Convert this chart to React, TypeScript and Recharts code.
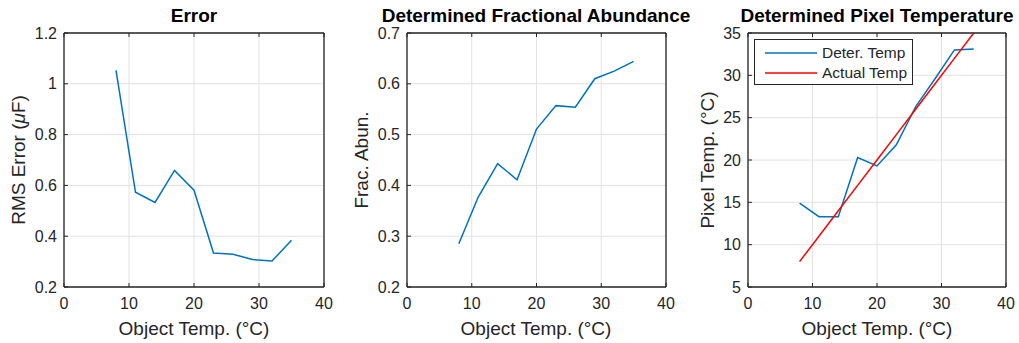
import { LineChart, Line, XAxis, YAxis, CartesianGrid, Legend } from 'recharts';

// Object temperatures (x) shared by all three panels
const objectTemps = [8, 11, 14, 17, 20, 23, 26, 29, 32, 35];
const rmsError = [1.053, 0.573, 0.533, 0.659, 0.581, 0.334, 0.329, 0.308, 0.302, 0.384];
const fracAbundance = [0.285, 0.377, 0.443, 0.411, 0.511, 0.557, 0.554, 0.61, 0.625, 0.644];
const deterTemp = [14.9, 13.3, 13.3, 20.3, 19.3, 21.8, 26.3, 29.6, 33.0, 33.1];
const actualTemp = [8, 11, 14, 17, 20, 23, 26, 29, 32, 35];

const xTicks = [0, 10, 20, 30, 40];
const errorTicks = [0.2, 0.4, 0.6, 0.8, 1, 1.2];
const abunTicks = [0.2, 0.3, 0.4, 0.5, 0.6, 0.7];
const pixelTicks = [5, 10, 15, 20, 25, 30, 35];

const FRAME = '#262626';
const GRID = '#e2e2e2';
const BLUE = '#0072BD';
const RED = '#FF0000';
const FONT = '"Liberation Sans", Arial, Helvetica, sans-serif';

const tempSeries = [
  { key: 'deter', name: 'Deter. Temp', color: BLUE },
  { key: 'actual', name: 'Actual Temp', color: RED },
];

const errorData = objectTemps.map((x, i) => ({ x, err: rmsError[i] }));
const abunData = objectTemps.map((x, i) => ({ x, abun: fracAbundance[i] }));
const tempData = objectTemps.map((x, i) => ({ x, deter: deterTemp[i], actual: actualTemp[i] }));

interface SeriesDef {
  key: string;
  name: string;
  color: string;
}

interface PanelProps {
  left: number;
  width: number;
  marginLeft: number;
  marginRight: number;
  data: Record<string, number>[];
  yDomain: [number, number];
  yTicks: number[];
  series: SeriesDef[];
  legend?: boolean;
}

const noTick = () => <g />;

// MATLAB-style boxed legend, kept in plotting order
const renderLegend = (props: any) => {
  const names = (props.payload || []).map((p: any) => p.value);
  const items = tempSeries.filter((s) => names.includes(s.name));
  return (
    <div
      style={{
        border: `1.3px solid ${FRAME}`,
        background: '#fff',
        width: 159,
        height: 46,
        paddingTop: 3,
        boxSizing: 'border-box',
        fontSize: 15.5,
        color: FRAME,
        fontFamily: FONT,
      }}
    >
      {items.map((s) => (
        <div key={s.key} style={{ display: 'flex', alignItems: 'center', height: 20 }}>
          <svg width={52} height={6} style={{ marginLeft: 10, marginRight: 5 }}>
            <line x1={0} y1={3} x2={52} y2={3} stroke={s.color} strokeWidth={1.5} />
          </svg>
          <span>{s.name}</span>
        </div>
      ))}
    </div>
  );
};

function Panel({ left, width, marginLeft, marginRight, data, yDomain, yTicks, series, legend }: PanelProps) {
  const axisLine = { stroke: FRAME, strokeWidth: 1.3 };
  const tickLine = { stroke: FRAME, strokeWidth: 1 };
  return (
    <div style={{ position: 'absolute', left, top: 0 }}>
      <LineChart
        width={width}
        height={343}
        data={data}
        margin={{ top: 32, right: marginRight, bottom: 26, left: marginLeft }}
      >
        <CartesianGrid stroke={GRID} strokeWidth={1} />
        {series.map((s) => (
          <Line
            key={s.key}
            type="linear"
            dataKey={s.key}
            name={s.name}
            stroke={s.color}
            strokeWidth={1.5}
            dot={false}
            isAnimationActive={false}
          />
        ))}
        <XAxis
          dataKey="x"
          type="number"
          domain={[0, 40]}
          ticks={xTicks}
          interval={0}
          height={30}
          tickSize={-4}
          tickMargin={15}
          axisLine={axisLine}
          tickLine={tickLine}
          tick={{ fill: FRAME, fontSize: 16 }}
        />
        <XAxis
          xAxisId="top"
          orientation="top"
          dataKey="x"
          type="number"
          domain={[0, 40]}
          ticks={xTicks}
          interval={0}
          height={1}
          tickSize={-4}
          axisLine={axisLine}
          tickLine={tickLine}
          tick={noTick}
        />
        <YAxis
          type="number"
          domain={yDomain}
          ticks={yTicks}
          interval={0}
          width={40}
          tickSize={-4}
          tickMargin={11}
          axisLine={axisLine}
          tickLine={tickLine}
          tick={{ fill: FRAME, fontSize: 16 }}
          tickFormatter={(v: number) => String(v)}
        />
        <YAxis
          yAxisId="right"
          orientation="right"
          type="number"
          domain={yDomain}
          ticks={yTicks}
          interval={0}
          width={1}
          tickSize={-4}
          axisLine={axisLine}
          tickLine={tickLine}
          tick={noTick}
        />
        {legend && (
          <Legend
            layout="vertical"
            align="center"
            verticalAlign="middle"
            content={renderLegend}
            wrapperStyle={{ left: 74, top: 39, width: 159, height: 46 }}
          />
        )}
      </LineChart>
    </div>
  );
}

export default function App() {
  return (
    <div
      style={{
        position: 'absolute',
        left: 0,
        top: 0,
        width: 1019,
        height: 343,
        background: '#fff',
        fontFamily: FONT,
      }}
    >
      <Panel
        left={0}
        width={340}
        marginLeft={24}
        marginRight={15}
        data={errorData}
        yDomain={[0.2, 1.2]}
        yTicks={errorTicks}
        series={[{ key: 'err', name: 'RMS Error', color: BLUE }]}
      />
      <Panel
        left={340}
        width={340}
        marginLeft={27}
        marginRight={13}
        data={abunData}
        yDomain={[0.2, 0.7]}
        yTicks={abunTicks}
        series={[{ key: 'abun', name: 'Frac. Abun.', color: BLUE }]}
      />
      <Panel
        left={680}
        width={339}
        marginLeft={28}
        marginRight={12}
        data={tempData}
        yDomain={[5, 35]}
        yTicks={pixelTicks}
        series={tempSeries}
        legend
      />
      <svg
        width={1019}
        height={343}
        style={{ position: 'absolute', left: 0, top: 0, pointerEvents: 'none' }}
        fontFamily={FONT}
        fill={FRAME}
      >
        <g fontSize={19} fontWeight="bold" textAnchor="middle" fill="#000">
          <text x={194} y={22}>Error</text>
          <text x={536} y={22}>Determined Fractional Abundance</text>
          <text x={877} y={22}>Determined Pixel Temperature</text>
        </g>
        <g fontSize={19} textAnchor="middle">
          <text x={194} y={335}>Object Temp. (°C)</text>
          <text x={536} y={335}>Object Temp. (°C)</text>
          <text x={877} y={335}>Object Temp. (°C)</text>
          <text transform="translate(25,160) rotate(-90)">
            RMS Error (<tspan fontStyle="italic">μ</tspan>F)
          </text>
          <text transform="translate(368,160) rotate(-90)">Frac. Abun.</text>
          <text transform="translate(714,160) rotate(-90)">Pixel Temp. (°C)</text>
        </g>
      </svg>
    </div>
  );
}
